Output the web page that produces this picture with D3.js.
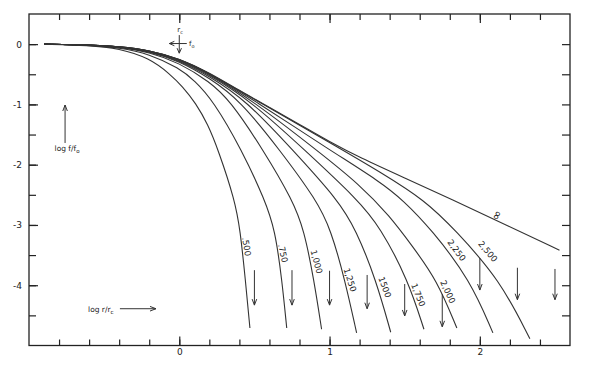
<!DOCTYPE html>
<html>
  <head>
    <meta charset="utf-8">
    <title>Projected profiles</title>
    <script src="https://cdn.jsdelivr.net/npm/d3@7"></script>
    <style>
      body { margin: 0; background: #fff; }
      svg text { font-family: "DejaVu Sans", sans-serif; fill: #222; }
      .tick line { stroke: #222; stroke-width: 1.2; }
      .tick text { font-size: 9px; }
      .profile { fill: none; stroke: #333; stroke-width: 1.1; }
      .mark { fill: none; stroke: #333; stroke-width: 1; }
    </style>
  </head>
  <body>
    <svg width="595" height="370"></svg>
    <script>
      // curve labels (log rt/rc) and one [log r/rc, log f/f0] list per curve
      var curveLabels = ['.500', '.750', '1,000', '1,250', '1500', '1,750', '2,000', '2,250', '2,500', '\u221e'];

      var c050 = [[-0.9,0],[-0.6,-0.02],[-0.4,-0.07],[-0.2,-0.23],[-0.06,-0.50],[0.02,-0.70],[0.11,-0.98],[0.19,-1.33],[0.26,-1.76],[0.37,-2.59],[0.405,-3.08],[0.44,-3.91],[0.47,-4.71]];
      var c075 = [[-0.9,0],[-0.6,-0.015],[-0.4,-0.06],[-0.2,-0.16],[0,-0.40],[0.1,-0.60],[0.224,-0.93],[0.417,-1.76],[0.57,-2.59],[0.637,-3.08],[0.683,-3.91],[0.715,-4.71]];
      var c100 = [[-0.9,0],[-0.6,-0.013],[-0.4,-0.05],[-0.2,-0.13],[0,-0.31],[0.2,-0.62],[0.337,-0.93],[0.56,-1.76],[0.754,-2.59],[0.83,-3.08],[0.896,-3.91],[0.947,-4.73]];
      var c125 = [[-0.9,0],[-0.6,-0.012],[-0.4,-0.045],[-0.2,-0.12],[0,-0.28],[0.2,-0.56],[0.404,-0.93],[0.67,-1.76],[0.914,-2.59],[1.009,-3.08],[1.102,-3.91],[1.18,-4.79]];
      var c150 = [[-0.9,0],[-0.6,-0.011],[-0.4,-0.04],[-0.2,-0.115],[0,-0.27],[0.2,-0.53],[0.444,-0.93],[0.756,-1.76],[1.058,-2.59],[1.176,-3.08],[1.309,-3.91],[1.407,-4.78]];
      var c175 = [[-0.9,0],[-0.6,-0.01],[-0.4,-0.04],[-0.2,-0.11],[0,-0.26],[0.2,-0.51],[0.47,-0.93],[0.836,-1.76],[1.191,-2.59],[1.335,-3.03],[1.522,-3.91],[1.628,-4.73]];
      var c200 = [[-0.9,0],[-0.6,-0.01],[-0.4,-0.04],[-0.2,-0.105],[0,-0.25],[0.2,-0.49],[0.484,-0.93],[0.916,-1.76],[1.2,-2.33],[1.4,-2.85],[1.55,-3.35],[1.714,-3.91],[1.847,-4.71]];
      var c225 = [[-0.9,0],[-0.6,-0.01],[-0.4,-0.04],[-0.2,-0.10],[0,-0.245],[0.2,-0.48],[0.497,-0.93],[1.003,-1.76],[1.335,-2.28],[1.49,-2.59],[1.68,-3.08],[1.935,-3.91],[2.087,-4.79]];
      var c250 = [[-0.9,0],[-0.6,-0.01],[-0.4,-0.04],[-0.2,-0.10],[0,-0.24],[0.2,-0.48],[0.51,-0.93],[1.09,-1.76],[1.335,-2.12],[1.635,-2.59],[1.835,-3.08],[2.134,-3.91],[2.333,-4.89]];
      var cInf = [[-0.9,0],[-0.6,-0.01],[-0.4,-0.04],[-0.2,-0.10],[0,-0.24],[0.2,-0.47],[0.4,-0.77],[0.6,-1.05],[0.8,-1.33],[1.0,-1.62],[1.2,-1.88],[1.5,-2.22],[1.8,-2.56],[2.2,-3.03],[2.53,-3.42]];

      // where each label sits and how it is turned
      var labelU = [0.448, 0.690, 0.914, 1.136, 1.368, 1.590, 1.788, 1.846, 2.054, 2.112];
      var labelV = [-3.36, -3.47, -3.61, -3.91, -4.03, -4.16, -4.11, -3.42, -3.44, -2.84];
      var labelRot = [80, 78, 75, 72, 70, 68, 65, 53, 50, -62];

      // tidal-radius arrows
      var arrowU = [0.5, 0.75, 1.0, 1.25, 1.5, 1.75, 2.0, 2.25, 2.5];
      var arrowTop = [-3.75, -3.75, -3.76, -3.83, -3.98, -4.15, -3.55, -3.71, -3.73];
      var arrowBot = [-4.33, -4.33, -4.33, -4.39, -4.51, -4.69, -4.08, -4.24, -4.24];

      var xTickLabels = [0, 1, 2];
      var yTickLabels = [0, -1, -2, -3, -4];

      var curves = [c050, c075, c100, c125, c150, c175, c200, c225, c250, cInf];

      var svg = d3.select('svg');
      var x = d3.scaleLinear().domain([-1, 2.6]).range([29, 570]);
      var y = d3.scaleLinear().domain([-5, 0.5]).range([345.5, 14]);

      var xMinor = d3.range(-4, 13).map(function(i) { return i * 0.2; });
      var yMinor = d3.range(-9, 1).map(function(i) { return i * 0.5; });
      var noDomain = function(g) { g.select('.domain').remove(); };

      // bottom
      svg.append('g').attr('transform', 'translate(0,' + y(-5) + ')')
         .call(d3.axisBottom(x).tickValues(xMinor).tickSize(-6).tickFormat(''))
         .call(noDomain);
      svg.append('g').attr('transform', 'translate(0,' + y(-5) + ')')
         .call(d3.axisBottom(x).tickValues(xTickLabels).tickSize(-9).tickPadding(3).tickFormat(d3.format('d')))
         .call(noDomain);
      // top
      svg.append('g').attr('transform', 'translate(0,' + y(0.5) + ')')
         .call(d3.axisTop(x).tickValues(xMinor).tickSize(-6).tickFormat(''))
         .call(noDomain);
      svg.append('g').attr('transform', 'translate(0,' + y(0.5) + ')')
         .call(d3.axisTop(x).tickValues(xTickLabels).tickSize(-9).tickFormat(''))
         .call(noDomain);
      // left
      svg.append('g').attr('transform', 'translate(' + x(-1) + ',0)')
         .call(d3.axisLeft(y).tickValues(yMinor).tickSize(-7).tickFormat(''))
         .call(noDomain);
      svg.append('g').attr('transform', 'translate(' + x(-1) + ',0)')
         .call(d3.axisLeft(y).tickValues(yTickLabels).tickSize(-9).tickPadding(7).tickFormat(function(d) { return String(d); }))
         .call(noDomain);
      // right
      svg.append('g').attr('transform', 'translate(' + x(2.6) + ',0)')
         .call(d3.axisRight(y).tickValues(yMinor).tickSize(-8).tickFormat(''))
         .call(noDomain);

      svg.append('rect')
         .attr('x', x(-1)).attr('y', y(0.5))
         .attr('width', x(2.6) - x(-1)).attr('height', y(-5) - y(0.5))
         .attr('fill', 'none').attr('stroke', '#222').attr('stroke-width', 1.3);

      var line = d3.line()
                   .x(function(d) { return x(d[0]); })
                   .y(function(d) { return y(d[1]); })
                   .curve(d3.curveBasis);

      svg.selectAll('path.profile')
         .data(curves)
         .enter()
         .append('path')
         .attr('class', 'profile')
         .attr('d', line);

      svg.selectAll('text.clabel')
         .data(curveLabels)
         .enter()
         .append('text')
         .attr('class', 'clabel')
         .attr('text-anchor', 'middle')
         .attr('dominant-baseline', 'central')
         .style('font-size', function(d) { return d === '\u221e' ? '12px' : '8.5px'; })
         .attr('transform', function(d, i) {
           return 'translate(' + x(labelU[i]) + ',' + y(labelV[i]) + ') rotate(' + labelRot[i] + ')';
         })
         .text(function(d) { return d; });

      // down arrows at the tidal radius
      var arrows = svg.selectAll('g.arrow')
         .data(arrowU)
         .enter()
         .append('g')
         .attr('class', 'arrow');
      arrows.append('path')
         .attr('class', 'mark')
         .attr('d', function(d, i) {
           var px = x(d), y0 = y(arrowTop[i]), y1 = y(arrowBot[i]);
           return 'M' + px + ',' + y0 + 'V' + y1 +
                  'M' + (px - 2.3) + ',' + (y1 - 6) + 'L' + px + ',' + y1 + 'L' + (px + 2.3) + ',' + (y1 - 6);
         });

      // r_c / f_o cross near the origin
      var cx = x(0), cy = y(0.01);
      svg.append('path').attr('class', 'mark')
         .attr('d', 'M' + cx + ',' + y(0.15) + 'V' + y(-0.15) +
                    'M' + (cx - 2.2) + ',' + (y(-0.15) - 5) + 'L' + cx + ',' + y(-0.15) + 'L' + (cx + 2.2) + ',' + (y(-0.15) - 5) +
                    'M' + x(0.05) + ',' + cy + 'H' + x(-0.066) +
                    'M' + (x(-0.066) + 5) + ',' + (cy - 2.2) + 'L' + x(-0.066) + ',' + cy + 'L' + (x(-0.066) + 5) + ',' + (cy + 2.2));
      var rc = svg.append('text').attr('x', cx - 2).attr('y', y(0.2)).style('font-size', '7px');
      rc.append('tspan').text('r');
      rc.append('tspan').attr('dy', 2).style('font-size', '5px').text('c');
      var fo = svg.append('text').attr('x', x(0.065)).attr('y', cy + 2.5).style('font-size', '7px');
      fo.append('tspan').text('f');
      fo.append('tspan').attr('dy', 2).style('font-size', '5px').text('o');

      // axis captions
      var yl = svg.append('text').attr('x', x(-0.83)).attr('y', y(-1.77)).style('font-size', '7.5px');
      yl.append('tspan').text('log  f/f');
      yl.append('tspan').attr('dy', 2).style('font-size', '5.5px').text('o');
      svg.append('path').attr('class', 'mark')
         .attr('d', 'M' + x(-0.76) + ',' + y(-1.64) + 'V' + y(-1.01) +
                    'M' + (x(-0.76) - 2.3) + ',' + (y(-1.01) + 6) + 'L' + x(-0.76) + ',' + y(-1.01) + 'L' + (x(-0.76) + 2.3) + ',' + (y(-1.01) + 6));

      var xl = svg.append('text').attr('x', x(-0.607)).attr('y', y(-4.44)).style('font-size', '7.5px');
      xl.append('tspan').text('log  r/r');
      xl.append('tspan').attr('dy', 2).style('font-size', '5.5px').text('c');
      svg.append('path').attr('class', 'mark')
         .attr('d', 'M' + x(-0.395) + ',' + y(-4.39) + 'H' + x(-0.155) +
                    'M' + (x(-0.155) - 6) + ',' + (y(-4.39) - 2.3) + 'L' + x(-0.155) + ',' + y(-4.39) + 'L' + (x(-0.155) - 6) + ',' + (y(-4.39) + 2.3));
    </script>
  </body>
</html>
